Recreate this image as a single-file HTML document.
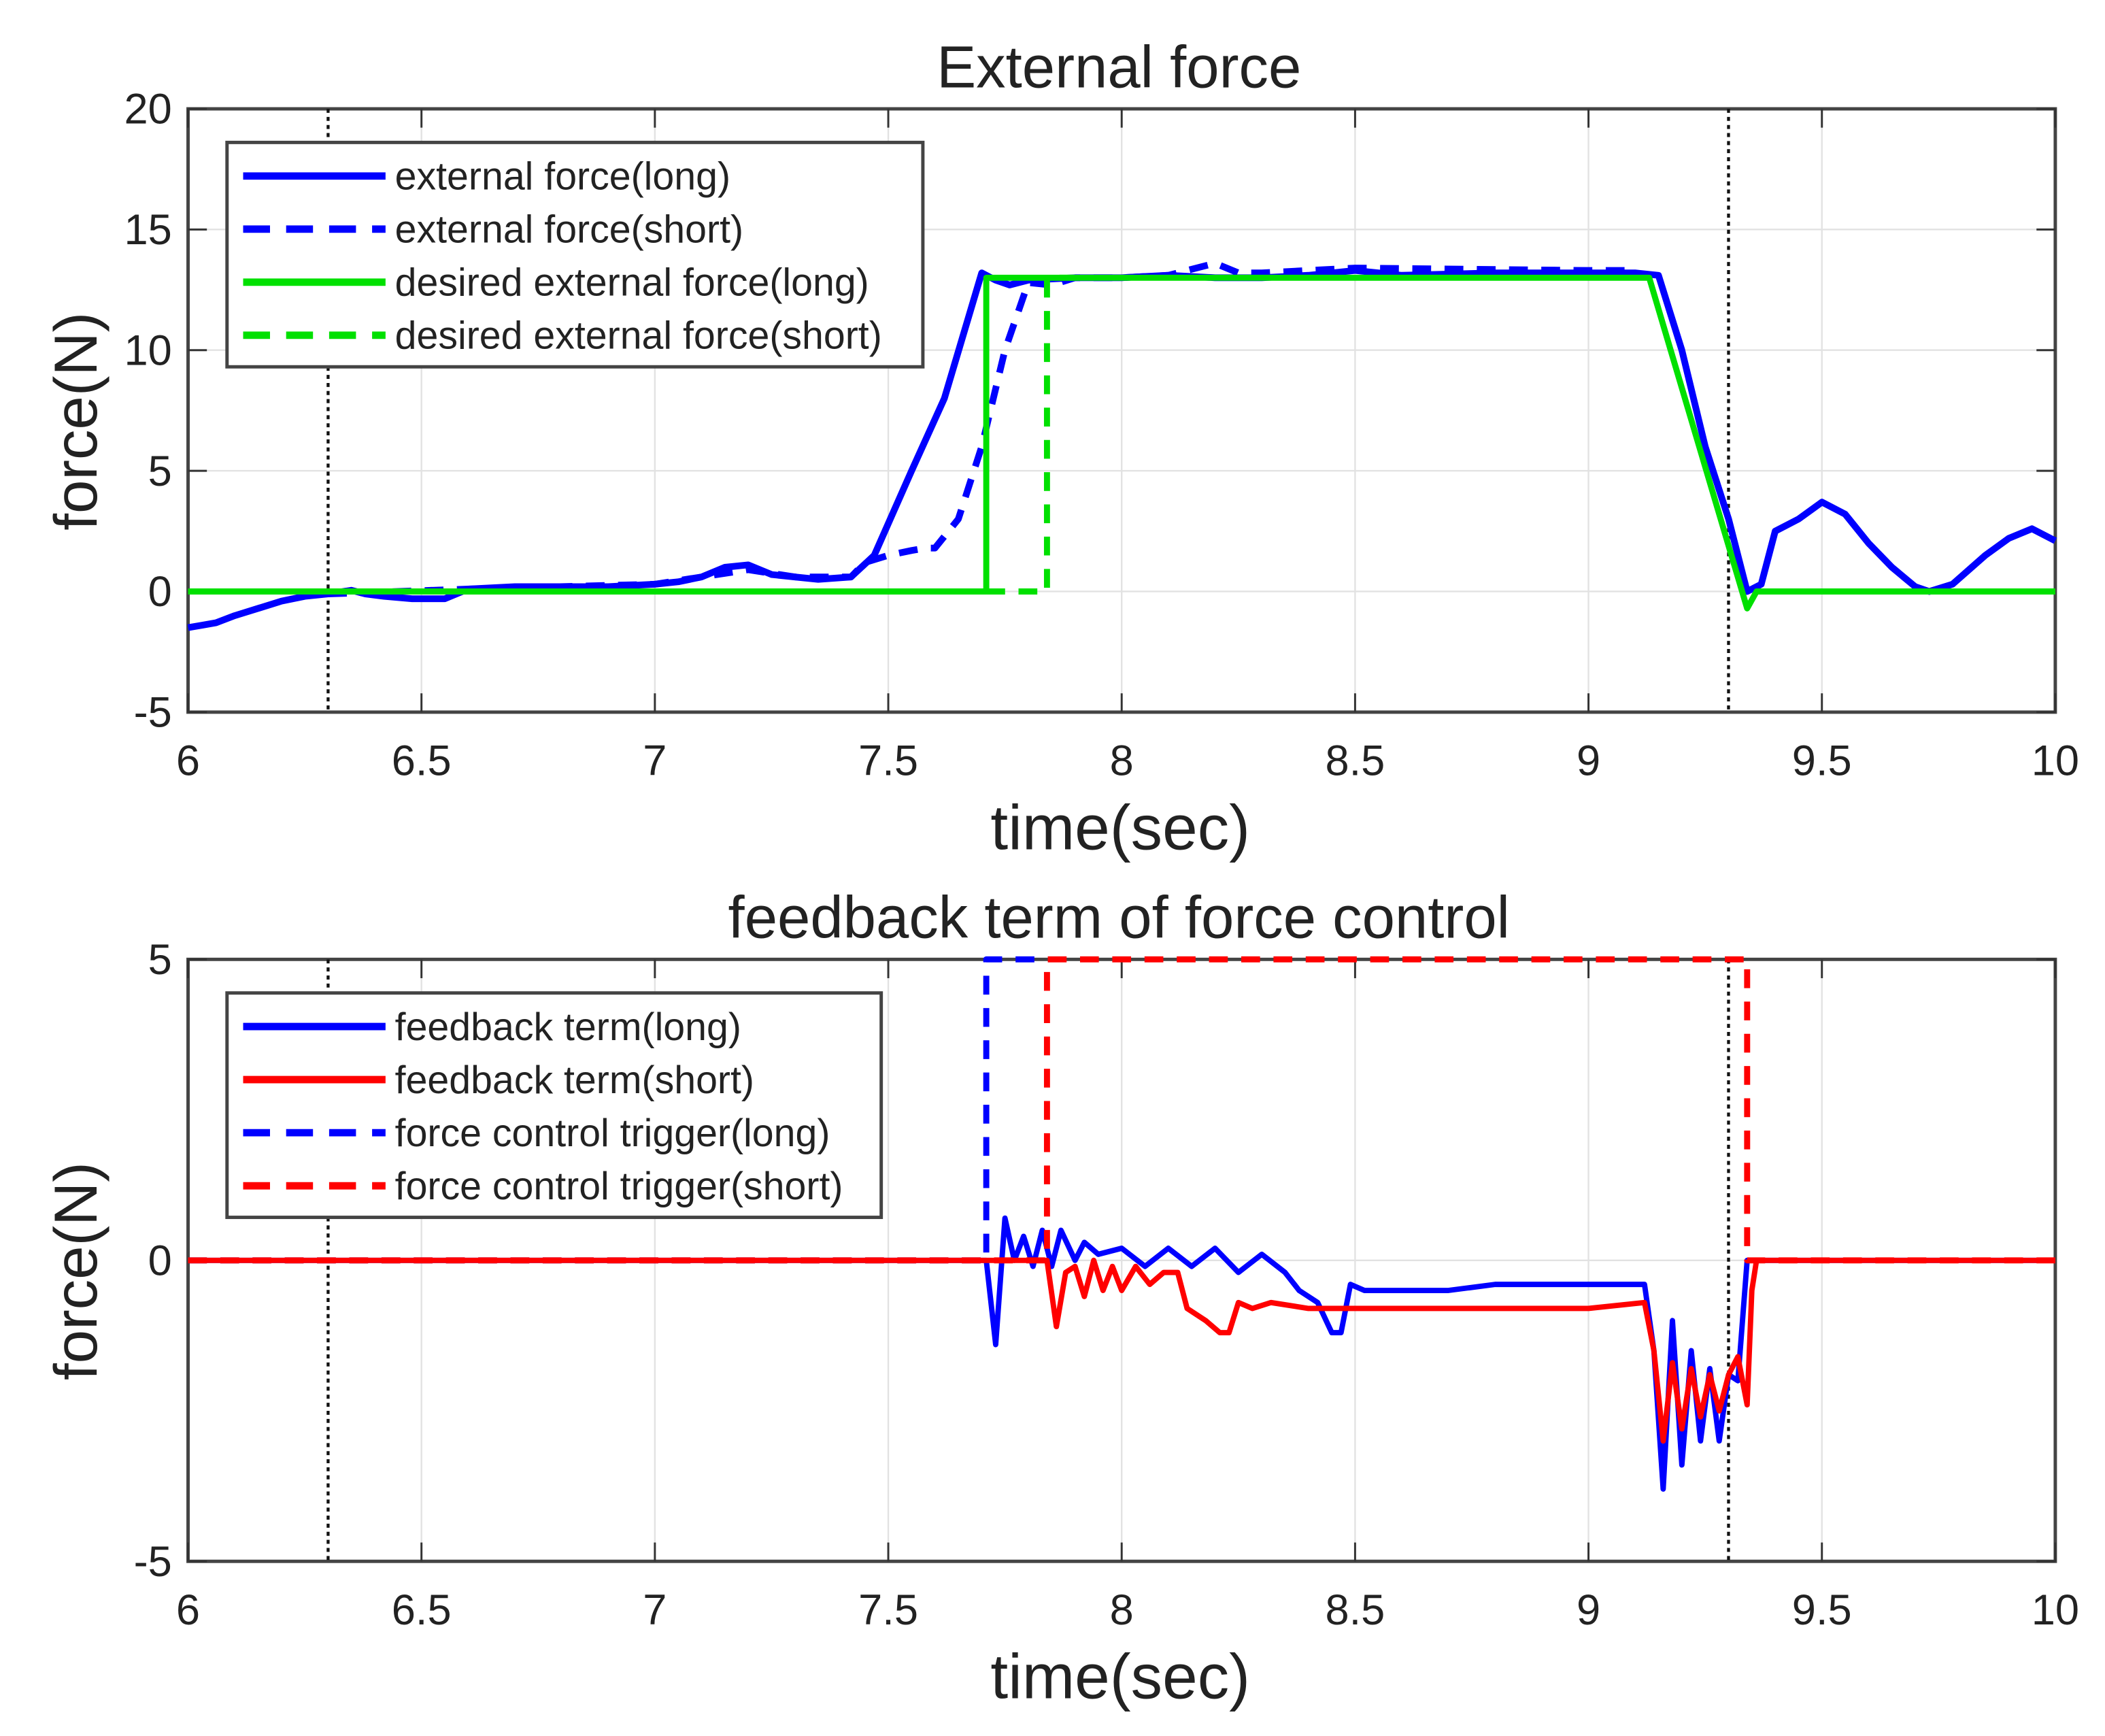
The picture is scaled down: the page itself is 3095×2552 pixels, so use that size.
<!DOCTYPE html>
<html><head><meta charset="utf-8"><style>
html,body{margin:0;padding:0;background:#fff;}
svg{display:block;}
text{font-family:"Liberation Sans",Arial,sans-serif;fill:#222;}
</style></head><body>
<svg id="chart" width="3095" height="2552" viewBox="0 0 1567 1292" preserveAspectRatio="none" xmlns="http://www.w3.org/2000/svg"></svg>
<script>
// ---- data ----
const xTicks = [6,6.5,7,7.5,8,8.5,9,9.5,10];
const xTickLabels = ["6","6.5","7","7.5","8","8.5","9","9.5","10"];
const topYTicks = [-5,0,5,10,15,20];
const botYTicks = [-5,0,5];
const markerTimes = [6.3,9.3];

const extLongT = [6,6.03,6.06,6.1,6.15,6.2,6.25,6.3,6.35,6.38,6.42,6.48,6.55,6.6,6.7,6.8,6.9,7.0,7.05,7.1,7.15,7.2,7.25,7.3,7.35,7.42,7.47,7.55,7.62,7.7,7.73,7.76,7.8,7.9,8.0,8.1,8.2,8.3,8.4,8.5,8.6,8.8,9.0,9.1,9.15,9.2,9.25,9.3,9.34,9.37,9.4,9.45,9.5,9.55,9.6,9.65,9.7,9.73,9.78,9.85,9.9,9.95,10];
const extLongV = [-1.5,-1.4,-1.3,-1.0,-0.7,-0.4,-0.2,-0.1,0.05,-0.1,-0.2,-0.3,-0.3,0.1,0.2,0.2,0.2,0.3,0.4,0.6,1.0,1.1,0.7,0.6,0.5,0.6,1.5,5.0,8.0,13.2,12.9,12.7,12.9,13.0,13.0,13.1,13.0,13.0,13.1,13.3,13.1,13.2,13.2,13.2,13.1,10.0,6.0,3.0,0.0,0.3,2.5,3.0,3.7,3.2,2.0,1.0,0.2,0.0,0.3,1.5,2.2,2.6,2.1];
const extShortT = [6.3,6.6,7.0,7.2,7.3,7.42,7.45,7.5,7.55,7.58,7.6,7.65,7.7,7.75,7.8,7.85,7.9,8.0,8.1,8.2,8.25,8.3,8.5,9.0,9.1];
const extShortV = [-0.1,0.1,0.3,0.9,0.6,0.6,1.2,1.5,1.7,1.8,1.8,3.0,6.0,10.0,12.8,12.7,13.0,13.0,13.1,13.6,13.2,13.2,13.4,13.3,13.3];
const desLongT = [6,7.71,7.71,9.13,9.34,9.36,10];
const desLongV = [0,0,13,13,-0.7,0,0];
const desShortT = [7.71,7.84,7.84,7.9];
const desShortV = [0,0,13,13];

const fbLongT = [6,7.71,7.73,7.75,7.77,7.79,7.81,7.83,7.85,7.87,7.9,7.92,7.95,8.0,8.05,8.1,8.15,8.2,8.25,8.3,8.35,8.38,8.42,8.45,8.47,8.49,8.52,8.6,8.7,8.8,9.0,9.12,9.14,9.16,9.18,9.2,9.22,9.24,9.26,9.28,9.3,9.32,9.34,9.35,10];
const fbLongV = [0,0,-1.4,0.7,0.0,0.4,-0.1,0.5,-0.1,0.5,0.0,0.3,0.1,0.2,-0.1,0.2,-0.1,0.2,-0.2,0.1,-0.2,-0.5,-0.7,-1.2,-1.2,-0.4,-0.5,-0.5,-0.5,-0.4,-0.4,-0.4,-1.5,-3.8,-1.0,-3.4,-1.5,-3.0,-1.8,-3.0,-1.9,-2.0,0.0,0.0,0.0];
const fbShortT = [6,7.84,7.86,7.88,7.9,7.92,7.94,7.96,7.98,8.0,8.03,8.06,8.09,8.12,8.14,8.18,8.21,8.23,8.25,8.28,8.32,8.4,8.5,8.6,9.0,9.12,9.14,9.16,9.18,9.2,9.22,9.24,9.26,9.28,9.3,9.32,9.34,9.35,9.36,10];
const fbShortV = [0,0,-1.1,-0.2,-0.1,-0.6,0.0,-0.5,-0.1,-0.5,-0.1,-0.4,-0.2,-0.2,-0.8,-1.0,-1.2,-1.2,-0.7,-0.8,-0.7,-0.8,-0.8,-0.8,-0.8,-0.7,-1.5,-3.0,-1.7,-2.8,-1.8,-2.6,-1.9,-2.5,-1.9,-1.6,-2.4,-0.5,0,0];
const trigLongT = [6,7.71,7.71,7.84];
const trigLongV = [0,0,5,5];
const trigShortT = [6,7.84,7.84,9.34,9.34,10];
const trigShortV = [0,0,5,5,0,0];

// ---- layout ----
const svg = document.getElementById('chart');
const NS = 'http://www.w3.org/2000/svg';
const X0 = 140, X1 = 1530;
const xs = t => X0 + (t - 6) / 4 * (X1 - X0);
function mk(tag, attrs, parent) {
  const e = document.createElementNS(NS, tag);
  for (const k in attrs) e.setAttribute(k, attrs[k]);
  (parent || svg).appendChild(e);
  return e;
}
function txt(s, x, y, size, anchor, parent) {
  const e = mk('text', {x: x, y: y, 'font-size': size, 'text-anchor': anchor || 'middle'}, parent);
  e.textContent = s;
  return e;
}

function panel(name, top, bottom, ymin, ymax, yTicks, title) {
  const g = mk('g', {});
  
  
  const ys = v => bottom - (v - ymin) / (ymax - ymin) * (bottom - top);
  xTicks.forEach(t => {
    const l = mk('line', {x1: xs(t), x2: xs(t), y1: top, y2: bottom, stroke: '#e2e2e2', 'stroke-width': 1.2}, g);
    
    
  });
  yTicks.forEach(v => {
    const l = mk('line', {x1: X0, x2: X1, y1: ys(v), y2: ys(v), stroke: '#e2e2e2', 'stroke-width': 1.2}, g);
    
    
  });
  const box = mk('rect', {x: X0, y: top, width: X1 - X0, height: bottom - top, fill: 'none', stroke: '#444', 'stroke-width': 2.5}, g);
  
  
  xTicks.forEach((t, i) => {
    mk('line', {x1: xs(t), x2: xs(t), y1: bottom, y2: bottom - 14, stroke: '#333', 'stroke-width': 1.5}, g);
    mk('line', {x1: xs(t), x2: xs(t), y1: top, y2: top + 14, stroke: '#333', 'stroke-width': 1.5}, g);
    const tl = txt(xTickLabels[i], xs(t), bottom + 47, 32, 'middle', g);
    
    
  });
  yTicks.forEach(v => {
    mk('line', {x1: X0, x2: X0 + 14, y1: ys(v), y2: ys(v), stroke: '#333', 'stroke-width': 1.5}, g);
    mk('line', {x1: X1, x2: X1 - 14, y1: ys(v), y2: ys(v), stroke: '#333', 'stroke-width': 1.5}, g);
    const tl = txt(String(v), X0 - 12, ys(v) + 11, 32, 'end', g);
    
    
  });
  const tt = txt(title, 833, top - 16, 44, 'middle', g);
  
  
  const xl = txt('time(sec)', 834, bottom + 102, 47, 'middle', g);
  
  
  const yl = txt('force(N)', 0, 0, 45, 'middle', g);
  yl.setAttribute('transform', 'translate(72,' + ((top + bottom) / 2 + 8) + ') rotate(-90)');
  
  
  markerTimes.forEach(t => {
    const l = mk('line', {x1: xs(t), x2: xs(t), y1: top, y2: bottom, stroke: '#111', 'stroke-width': 2.2, 'stroke-dasharray': '3,3'}, g);
    
    
  });
  return {g: g, ys: ys};
}

function series(p, T, V, color, dash, width, name) {
  const d = T.map((t, i) => (i ? 'L' : 'M') + xs(t).toFixed(1) + ',' + p.ys(V[i]).toFixed(1)).join('');
  const path = mk('path', {d: d, fill: 'none', stroke: color, 'stroke-width': width, 'stroke-linejoin': 'round'}, p.g);
  if (dash) path.setAttribute('stroke-dasharray', dash);
  
  
}

function legend(p, x, y, w, h, items) {
  const lg = mk('g', {}, p.g);
  
  
  mk('rect', {x: x, y: y, width: w, height: h, fill: '#fff', stroke: '#444', 'stroke-width': 2.5}, lg);
  items.forEach((it, i) => {
    const cy = y + 25 + i * 39.5;
    const ent = mk('g', {}, lg);
    
    
    const l = mk('line', {x1: x + 12, x2: x + 118, y1: cy, y2: cy, stroke: it[1], 'stroke-width': 5.5}, ent);
    if (it[2]) l.setAttribute('stroke-dasharray', '20,12');
    txt(it[0], x + 125, cy + 10, 29, 'start', ent);
  });
}

const p1 = panel('external-force-panel', 81, 530, -5, 20, topYTicks, 'External force');
series(p1, extShortT, extShortV, '#0000ff', '14,10', 5, 'external-force-short-line');
series(p1, extLongT, extLongV, '#0000ff', null, 5, 'external-force-long-line');
series(p1, desShortT, desShortV, '#00e000', '14,10', 4.5, 'desired-force-short-line');
series(p1, desLongT, desLongV, '#00e000', null, 4.5, 'desired-force-long-line');
legend(p1, 169, 106, 518, 167, [['external force(long)', '#0000ff', false], ['external force(short)', '#0000ff', true], ['desired external force(long)', '#00e000', false], ['desired external force(short)', '#00e000', true]]);

const p2 = panel('feedback-term-panel', 714, 1162, -5, 5, botYTicks, 'feedback term of force control');
series(p2, trigLongT, trigLongV, '#0000ff', '14,10', 4.5, 'trigger-long-line');
series(p2, fbLongT, fbLongV, '#0000ff', null, 4, 'feedback-long-line');
series(p2, fbShortT, fbShortV, '#ff0000', null, 4, 'feedback-short-line');
series(p2, trigShortT, trigShortV, '#ff0000', '14,10', 4.5, 'trigger-short-line');
legend(p2, 169, 739, 487, 167, [['feedback term(long)', '#0000ff', false], ['feedback term(short)', '#ff0000', false], ['force control trigger(long)', '#0000ff', true], ['force control trigger(short)', '#ff0000', true]]);
</script>
</body></html>
